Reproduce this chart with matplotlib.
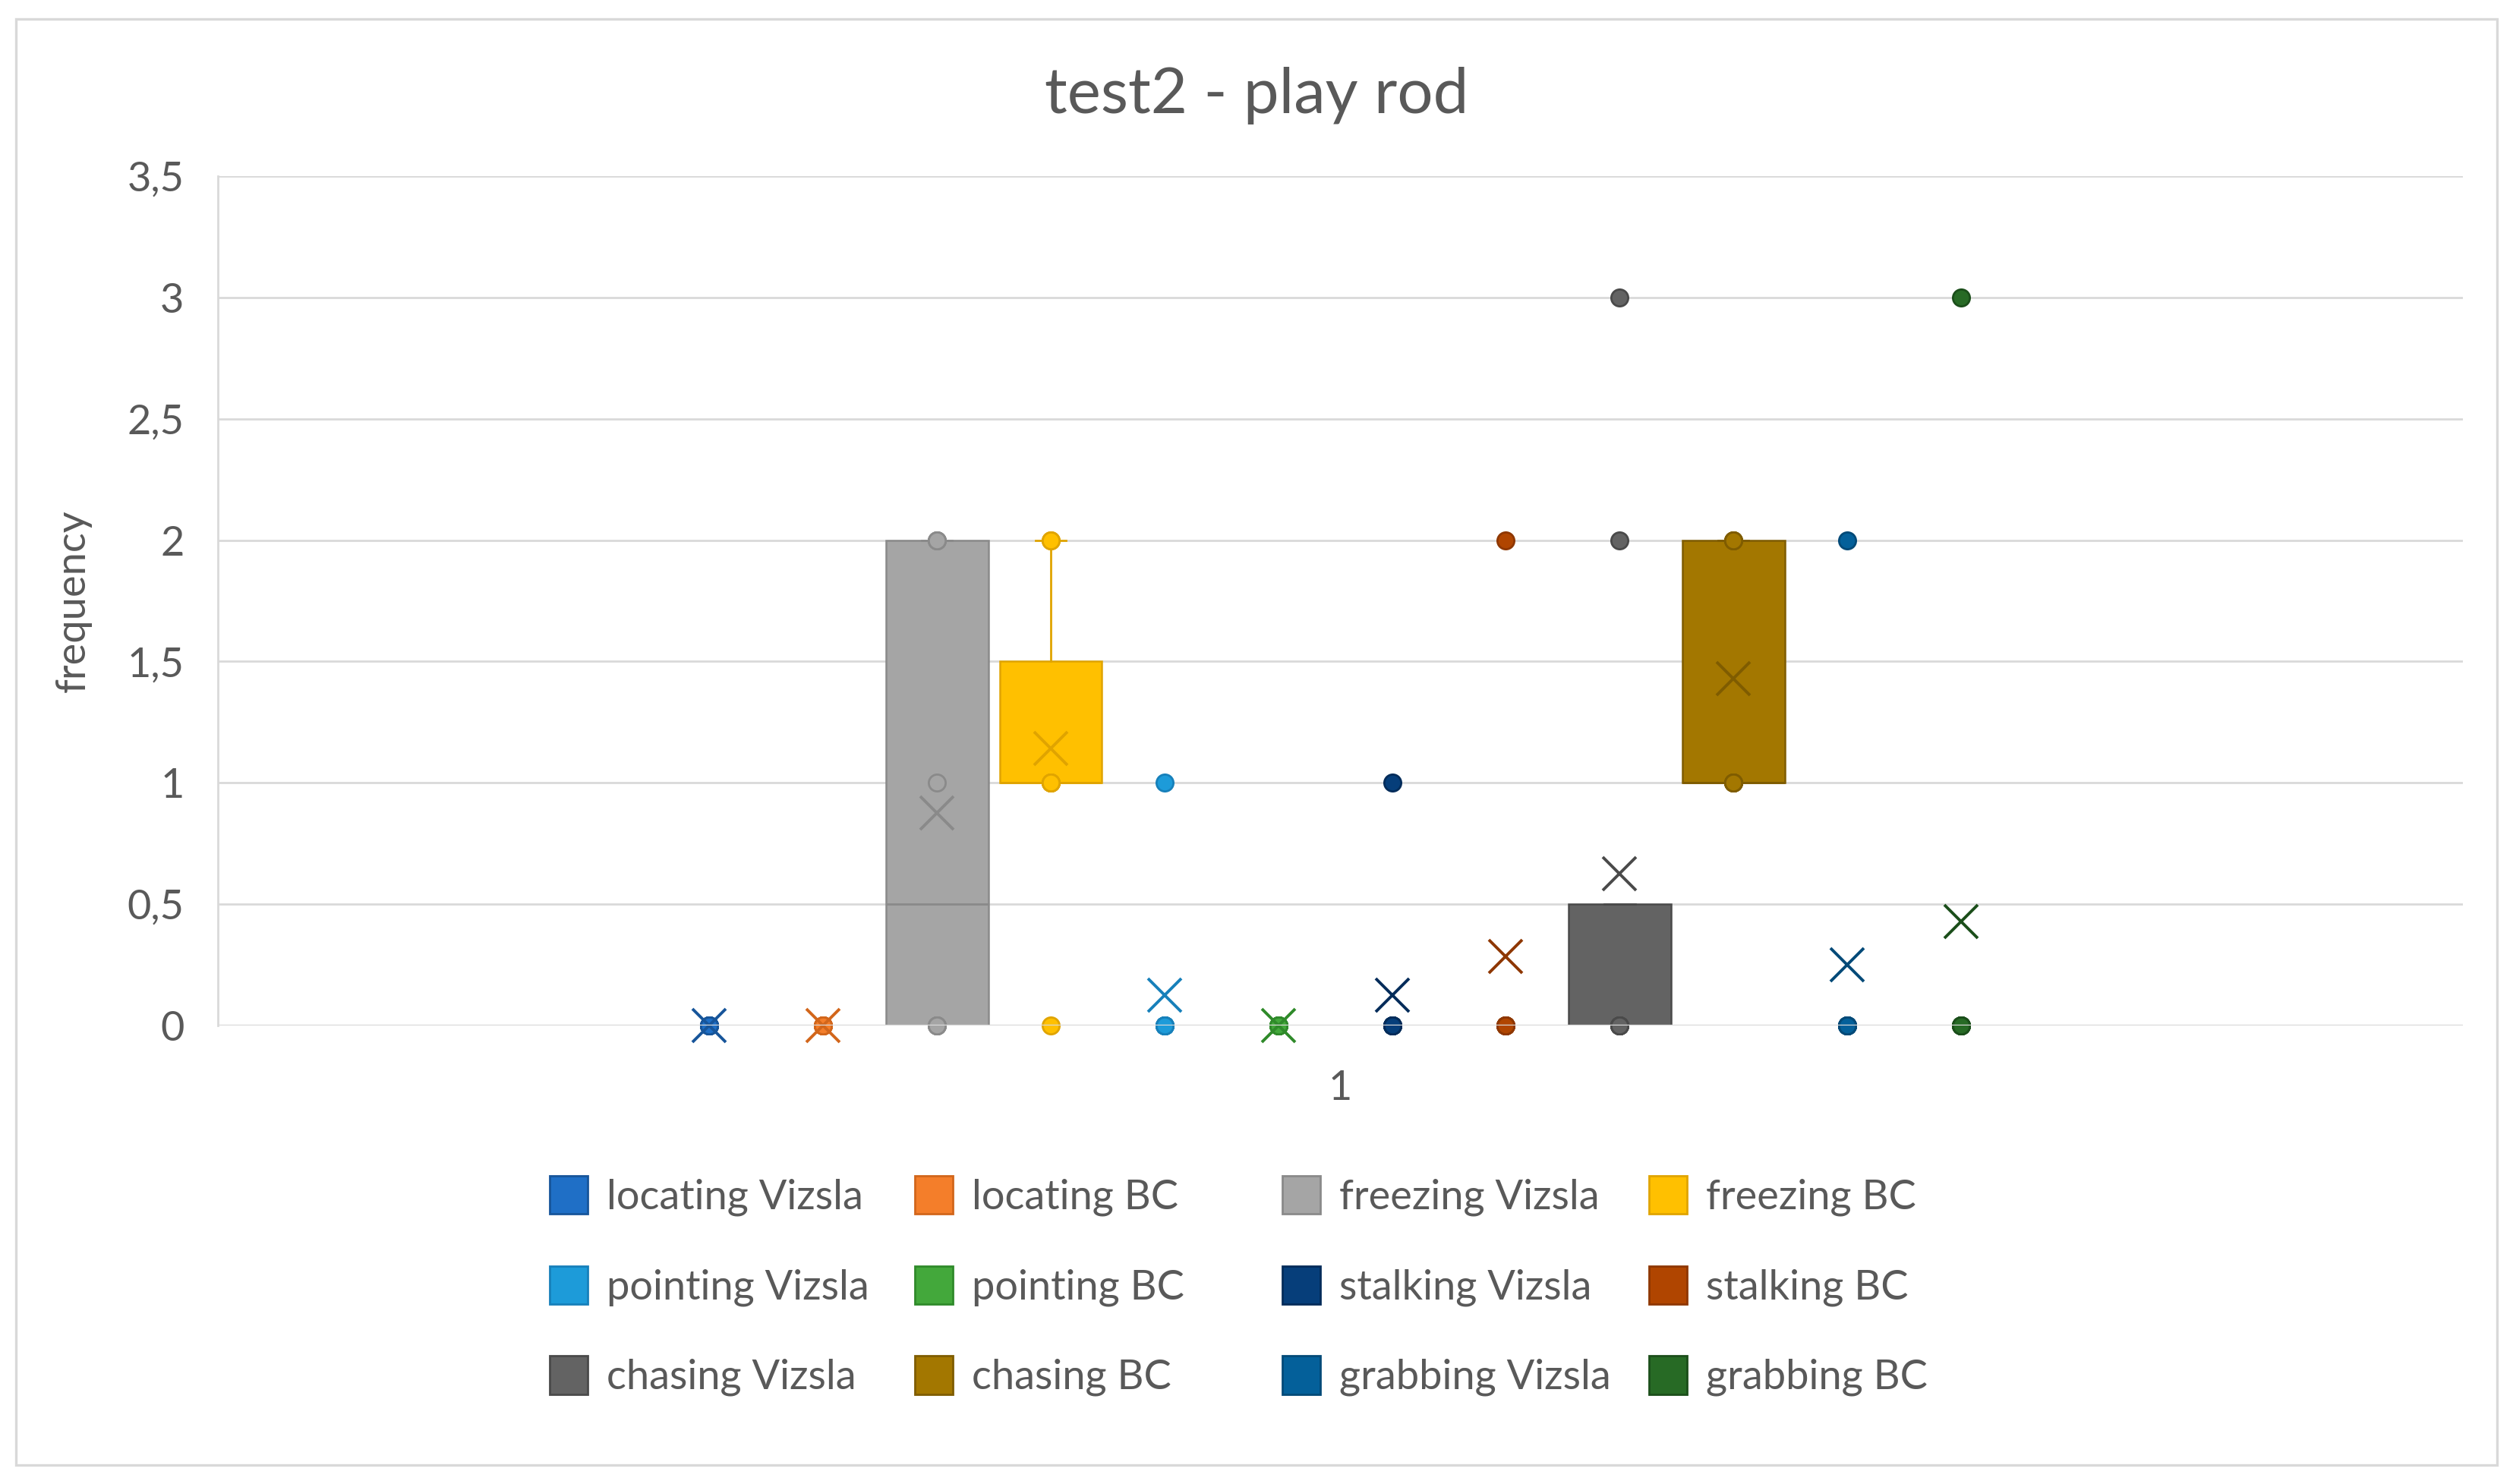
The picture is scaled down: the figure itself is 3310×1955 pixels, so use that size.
import numpy as np
import matplotlib.pyplot as plt
from matplotlib.patches import Patch, Rectangle

plt.rcParams['font.family'] = ['Lato', 'DejaVu Sans']

series_names = ['locating Vizsla', 'locating BC', 'freezing Vizsla', 'freezing BC',
                'pointing Vizsla', 'pointing BC', 'stalking Vizsla', 'stalking BC',
                'chasing Vizsla', 'chasing BC', 'grabbing Vizsla', 'grabbing BC']

# frequency per dog (8 Vizslas, 7 Border Collies)
locating_vizsla = [0, 0, 0, 0, 0, 0, 0, 0]
locating_bc = [0, 0, 0, 0, 0, 0, 0]
freezing_vizsla = [0, 0, 0, 0, 1, 2, 2, 2]
freezing_bc = [0, 1, 1, 1, 1, 2, 2]
pointing_vizsla = [0, 0, 0, 0, 0, 0, 0, 1]
pointing_bc = [0, 0, 0, 0, 0, 0, 0]
stalking_vizsla = [0, 0, 0, 0, 0, 0, 0, 1]
stalking_bc = [0, 0, 0, 0, 0, 0, 2]
chasing_vizsla = [0, 0, 0, 0, 0, 0, 2, 3]
chasing_bc = [1, 1, 1, 1, 2, 2, 2]
grabbing_vizsla = [0, 0, 0, 0, 0, 0, 0, 2]
grabbing_bc = [0, 0, 0, 0, 0, 0, 3]

all_data = [locating_vizsla, locating_bc, freezing_vizsla, freezing_bc,
            pointing_vizsla, pointing_bc, stalking_vizsla, stalking_bc,
            chasing_vizsla, chasing_bc, grabbing_vizsla, grabbing_bc]

fill_colors = ['#1F6FC6', '#F47E2A', '#A5A5A5', '#FFC000',
               '#1D9BD9', '#43A83B', '#063E7A', '#B04500',
               '#636363', '#A37700', '#04609A', '#276A25']
edge_colors = ['#17559A', '#D2661B', '#8A8A8A', '#E0A400',
               '#1780BA', '#2F8A2A', '#032C5A', '#8E3700',
               '#4A4A4A', '#7F5C00', '#034A78', '#1B4E1A']

y_ticks = [0, 0.5, 1, 1.5, 2, 2.5, 3, 3.5]
y_tick_labels = ['0', '0,5', '1', '1,5', '2', '2,5', '3', '3,5']
category_label = '1'

fig = plt.figure(figsize=(16.55, 9.775), dpi=200)
ax = fig.add_axes([0.0867, 0.309, 0.8933, 0.5723])

for i, data in enumerate(all_data):
    q1, q3 = np.percentile(data, [25, 75])
    flat = q1 == q3
    bp = ax.boxplot([data], positions=[i], widths=0.9, patch_artist=True,
                    showmeans=True, showfliers=False, whis=1.5, capwidths=0.27,
                    boxprops=dict(facecolor=fill_colors[i], edgecolor=edge_colors[i],
                                  linewidth=0 if flat else 0.9),
                    medianprops=dict(color=edge_colors[i], linewidth=0 if flat else 1.0),
                    whiskerprops=dict(color=edge_colors[i], linewidth=1.0),
                    capprops=dict(color=edge_colors[i], linewidth=1.0),
                    meanprops=dict(marker='x', markeredgecolor=edge_colors[i],
                                   markersize=16, markeredgewidth=1.4))
    for item in bp['means']:
        item.set_zorder(5)
        item.set_clip_on(False)
    ax.plot([i] * len(data), data, 'o', markerfacecolor=fill_colors[i],
            markeredgecolor=edge_colors[i], markersize=8, markeredgewidth=1.0,
            zorder=4, clip_on=False)

ax.set_xlim(-4.32, 15.41)
ax.set_ylim(0, 3.5)
ax.set_yticks(y_ticks)
ax.set_yticklabels(y_tick_labels)
ax.set_xticks([(-4.32 + 15.41) / 2])
ax.set_xticklabels([category_label])
ax.tick_params(axis='both', length=0, labelsize=19.5, colors='#595959')
ax.tick_params(axis='y', pad=16)
ax.tick_params(axis='x', pad=21)
ax.grid(axis='y', color='#D9D9D9', linewidth=1.0)
ax.set_axisbelow(True)
ax.axhline(0, color='#D9D9D9', linewidth=1.2, zorder=6)
for side in ['top', 'right', 'bottom']:
    ax.spines[side].set_visible(False)
ax.spines['left'].set_color('#D9D9D9')
ax.spines['left'].set_linewidth(1.0)

ax.set_ylabel('frequency', fontsize=19.5, color='#595959', labelpad=17)
fig.text(0.5, 0.9355, 'test2 - play rod', ha='center', va='center',
         fontsize=30, color='#595959')

# legend: 4 columns of 3 rows, filled row by row
col_x = [724, 1205, 1689, 2172]
for c in range(4):
    handles = []
    for r in range(3):
        k = r * 4 + c
        handles.append(Patch(facecolor=fill_colors[k], edgecolor=edge_colors[k],
                             linewidth=1.0, label=series_names[k]))
    fig.legend(handles=handles, loc='upper left',
               bbox_to_anchor=(col_x[c] / 3310, 1 - 1549 / 1955),
               frameon=False, fontsize=19.5, handlelength=0.92, handleheight=1.05,
               handletextpad=0.46, labelspacing=1.21, borderpad=0,
               borderaxespad=0, labelcolor='#595959')

fig.patches.append(Rectangle((0.0063, 0.0128), 0.9873, 0.9744, transform=fig.transFigure,
                             fill=False, edgecolor='#D9D9D9', linewidth=1.2))

fig.savefig('out.png', dpi=200, facecolor='white')
